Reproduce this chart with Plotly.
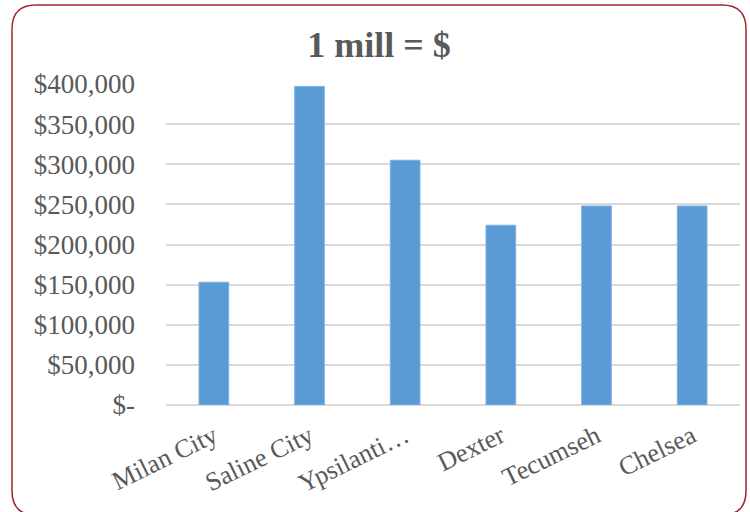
import plotly.graph_objects as go

categories = ["Milan City", "Saline City", "Ypsilanti…", "Dexter", "Tecumseh", "Chelsea"]
values = [153000, 397000, 305000, 224000, 248000, 248000]
tick_vals = [0, 50000, 100000, 150000, 200000, 250000, 300000, 350000, 400000]
tick_text = ["$-", "$50,000", "$100,000", "$150,000", "$200,000", "$250,000", "$300,000", "$350,000", "$400,000"]

W, H = 750, 512
L, R, T, B = 166, 10, 84, 107
pw, ph = W - L - R, H - T - B

def px(x):
    return (x - L) / pw

def py(y):
    return (H - B - y) / ph

# rounded border rectangle in pixels
x0, y0, x1, y1, r = 12, 5, 746, 515, 24
path = (
    f"M {px(x0 + r)} {py(y0)} L {px(x1 - r)} {py(y0)} "
    f"Q {px(x1)} {py(y0)} {px(x1)} {py(y0 + r)} "
    f"L {px(x1)} {py(y1 - r)} Q {px(x1)} {py(y1)} {px(x1 - r)} {py(y1)} "
    f"L {px(x0 + r)} {py(y1)} Q {px(x0)} {py(y1)} {px(x0)} {py(y1 - r)} "
    f"L {px(x0)} {py(y0 + r)} Q {px(x0)} {py(y0)} {px(x0 + r)} {py(y0)} Z"
)

fig = go.Figure(go.Bar(
    x=categories, y=values, marker=dict(color="#5B9BD5", line=dict(color="#7FB0E0", width=1)),
    width=0.31,
))

font = "Liberation Serif"
fig.update_layout(
    width=W, height=H,
    margin=dict(l=L, r=R, t=T, b=B, autoexpand=False),
    paper_bgcolor="white", plot_bgcolor="white",
    showlegend=False,
    title=dict(text="<b>1 mill = $</b>", x=379 / W, xref="container", xanchor="center",
               y=1 - 44 / H, yref="container", yanchor="middle",
               font=dict(family=font, size=36, color="#595959")),
    font=dict(family=font, color="#595959"),
    shapes=[dict(type="path", xref="paper", yref="paper", path=path,
                 line=dict(color="#A5232E", width=1.5), fillcolor="rgba(0,0,0,0)", layer="above")],
)
fig.update_yaxes(range=[0, 400000], tickvals=tick_vals, ticktext=tick_text,
                 showgrid=True, gridcolor="#D9D9D9", gridwidth=1.5,
                 zeroline=True, zerolinecolor="#D9D9D9", zerolinewidth=1.5,
                 showline=False, ticklabelstandoff=30, automargin=False,
                 tickfont=dict(family=font, size=27, color="#595959"))
fig.update_xaxes(tickangle=-26, showline=False, showgrid=False, automargin=False,
                 tickfont=dict(family=font, size=26, color="#595959"),
                 ticklabelstandoff=10)

fig.write_html("out.html", config={"displayModeBar": False},
               post_script="document.body.style.margin='0';document.body.style.padding='0';")
